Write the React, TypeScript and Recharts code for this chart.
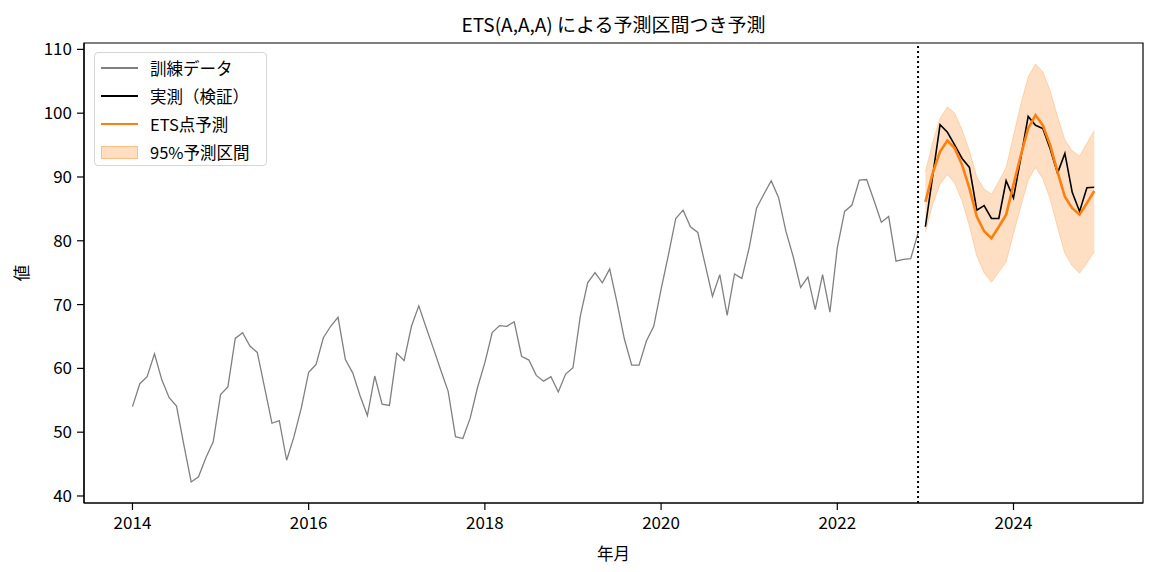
import {
  ComposedChart,
  Line,
  Area,
  XAxis,
  YAxis,
  ReferenceLine,
  ReferenceArea,
} from 'recharts'

const FONT = '"Noto Sans CJK JP", "Noto Sans", sans-serif'

// 2014-01 .. 2022-12
const trainStart = 2014
const trainValues = [
  54.0, 57.6, 58.7, 62.3, 58.2, 55.4, 54.1, 48.0, 42.2, 43.0, 46.0, 48.5,
  55.9, 57.1, 64.7, 65.6, 63.5, 62.5, 57.0, 51.4, 51.8, 45.6, 49.3, 53.8,
  59.4, 60.6, 64.8, 66.6, 68.0, 61.4, 59.3, 55.7, 52.6, 58.8, 54.4, 54.2,
  62.4, 61.2, 66.6, 69.8, 66.4, 63.1, 59.7, 56.4, 49.3, 49.0, 52.2, 57.0,
  60.9, 65.6, 66.7, 66.6, 67.3, 61.9, 61.3, 58.9, 58.0, 58.7, 56.3, 59.1,
  60.1, 68.2, 73.4, 75.0, 73.4, 75.6, 70.3, 64.6, 60.5, 60.5, 64.3, 66.6,
  72.4, 77.8, 83.5, 84.8, 82.2, 81.3, 76.3, 71.3, 74.7, 68.3, 74.8, 74.1,
  78.9, 85.1, 87.3, 89.4, 86.8, 81.5, 77.5, 72.7, 74.3, 69.2, 74.7, 68.8,
  78.9, 84.6, 85.6, 89.5, 89.6, 86.3, 82.9, 83.8, 76.8, 77.1, 77.2, 81.2,
]

// 2023-01 .. 2024-12
const testActual = [
  82.2, 90.2, 98.2, 97.0, 95.0, 92.9, 91.5, 84.8, 85.5, 83.5, 83.5, 89.4,
  86.7, 93.0, 99.5, 98.1, 97.6, 94.4, 90.6, 93.7, 87.6, 84.6, 88.3, 88.4,
]
const etsMean = [
  86.1, 90.6, 94.0, 95.7, 94.5, 91.9, 88.2, 83.8, 81.5, 80.4, 82.2, 84.1,
  88.8, 93.4, 97.6, 99.7, 98.1, 95.0, 90.8, 86.9, 85.1, 84.1, 85.9, 87.8,
]
const etsLower = [
  81.4, 85.7, 88.9, 90.4, 89.0, 86.2, 82.3, 77.6, 75.0, 73.5, 75.1, 76.7,
  81.1, 85.4, 89.5, 91.5, 89.7, 86.5, 82.1, 78.0, 76.1, 74.9, 76.5, 78.3,
]
const etsUpper = [
  90.8, 95.5, 99.2, 101.0, 100.0, 97.4, 94.1, 90.0, 88.1, 87.3, 89.3, 91.5,
  96.5, 101.4, 105.7, 107.7, 106.5, 103.5, 99.5, 95.8, 94.1, 93.3, 95.3, 97.3,
]

const xTicks = [2014, 2016, 2018, 2020, 2022, 2024]
const yTicks = [40, 50, 60, 70, 80, 90, 100, 110]
const xDomain = [2013.45, 2025.47]
const yDomain = [38.9, 111.0]

const nTrain = trainValues.length
const data = [...Array(nTrain + testActual.length)].map((_, i) => {
  const row: any = { t: trainStart + i / 12 }
  if (i < nTrain) {
    row.train = trainValues[i]
  } else {
    const j = i - nTrain
    row.actual = testActual[j]
    row.mean = etsMean[j]
    row.band = [etsLower[j], etsUpper[j]]
  }
  return row
})
const splitT = trainStart + (nTrain - 1) / 12

const legendItems = [
  { label: '訓練データ', kind: 'line', color: '#808080', width: 1.3 },
  { label: '実測（検証）', kind: 'line', color: '#000000', width: 1.6 },
  { label: 'ETS点予測', kind: 'line', color: '#ff7f0e', width: 2.6 },
  { label: '95%予測区間', kind: 'patch', color: '#ff7f0e', width: 1 },
]

function LegendBox() {
  return (
    <div
      style={{
        position: 'absolute',
        left: 94,
        top: 52,
        width: 173,
        height: 114,
        boxSizing: 'border-box',
        border: '1px solid #d6d6d6',
        borderRadius: 4,
        background: 'rgba(255,255,255,0.85)',
        fontFamily: FONT,
        fontSize: 16.5,
        color: '#000',
      }}
    >
      {legendItems.map((it, i) => (
        <div
          key={it.label}
          style={{ position: 'absolute', left: 0, top: 15 + i * 28 - 12, height: 24, width: 170 }}
        >
          {it.kind === 'line' ? (
            <div
              style={{
                position: 'absolute',
                left: 6,
                top: 12 - it.width / 2,
                width: 37,
                height: it.width,
                background: it.color,
              }}
            />
          ) : (
            <div
              style={{
                position: 'absolute',
                left: 6,
                top: 6,
                width: 37,
                height: 13,
                boxSizing: 'border-box',
                background: 'rgba(255,127,14,0.25)',
                border: '1px solid rgba(255,127,14,0.35)',
              }}
            />
          )}
          <span style={{ position: 'absolute', left: 55, top: 0, lineHeight: '24px', whiteSpace: 'nowrap' }}>
            {it.label}
          </span>
        </div>
      ))}
    </div>
  )
}

export default function App() {
  return (
    <div style={{ position: 'absolute', left: 0, top: 0, width: 1154, height: 572, background: '#fff' }}>
      <div
        style={{
          position: 'absolute',
          left: 84,
          width: 1059,
          top: 10,
          textAlign: 'center',
          fontFamily: FONT,
          fontSize: 19,
          lineHeight: '28px',
          color: '#000',
        }}
      >
        ETS(A,A,A) による予測区間つき予測
      </div>
      <ComposedChart
        width={1154}
        height={572}
        data={data}
        margin={{ top: 43, right: 11, left: 0, bottom: 0 }}
      >
        <XAxis
          dataKey="t"
          type="number"
          domain={xDomain}
          ticks={xTicks}
          allowDataOverflow
          height={69}
          tickSize={7}
          tickMargin={7}
          axisLine={{ stroke: '#000', strokeWidth: 1.2 }}
          tickLine={{ stroke: '#000', strokeWidth: 1.2 }}
          tick={{ fill: '#000', fontSize: 17, fontFamily: FONT }}
          label={{ value: '年月', position: 'insideBottom', offset: 12, fill: '#000', fontSize: 16.5, fontFamily: FONT }}
        />
        <YAxis
          type="number"
          domain={yDomain}
          ticks={yTicks}
          allowDataOverflow
          width={84}
          tickSize={7}
          tickMargin={5}
          axisLine={{ stroke: '#000', strokeWidth: 1.2 }}
          tickLine={{ stroke: '#000', strokeWidth: 1.2 }}
          tick={{ fill: '#000', fontSize: 17, fontFamily: FONT }}
          label={{
            value: '値',
            angle: -90,
            position: 'insideLeft',
            offset: 22,
            fill: '#000',
            fontSize: 16.5,
            fontFamily: FONT,
            style: { textAnchor: 'middle' },
          }}
        />
        <ReferenceArea
          x1={xDomain[0]}
          x2={xDomain[1]}
          y1={yDomain[0]}
          y2={yDomain[1]}
          fill="none"
          stroke="#000"
          strokeWidth={1.2}
        />
        <Area
          dataKey="band"
          type="linear"
          fill="#ff7f0e"
          fillOpacity={0.25}
          stroke="#ff7f0e"
          strokeOpacity={0.25}
          strokeWidth={1}
          isAnimationActive={false}
          dot={false}
          activeDot={false}
        />
        <Line
          dataKey="train"
          type="linear"
          stroke="#808080"
          strokeWidth={1.3}
          dot={false}
          isAnimationActive={false}
        />
        <Line
          dataKey="actual"
          type="linear"
          stroke="#000"
          strokeWidth={1.6}
          dot={false}
          isAnimationActive={false}
        />
        <Line
          dataKey="mean"
          type="linear"
          stroke="#ff7f0e"
          strokeWidth={2.6}
          dot={false}
          isAnimationActive={false}
        />
        <ReferenceLine x={splitT} stroke="#000" strokeWidth={2} strokeDasharray="2 3" />
      </ComposedChart>
      <LegendBox />
    </div>
  )
}
